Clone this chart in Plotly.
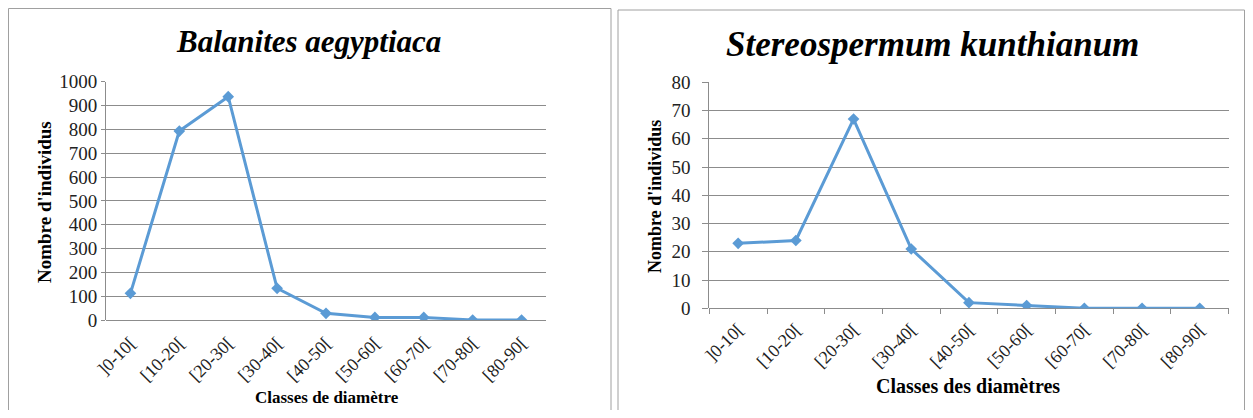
import plotly.graph_objects as go

# page is 1253x418 with an 8px body margin -> figure is 1237x402 at offset (8, 8)
OFF = 8
W, H = 1237, 402

classes = ["]0-10[", "[10-20[", "[20-30[", "[30-40[", "[40-50[", "[50-60[", "[60-70[", "[70-80[", "[80-90["]
balanites = [112, 793, 937, 133, 28, 11, 11, 0, 0]
stereospermum = [23, 24, 67, 21, 2, 1, 0, 0, 0]

title_left = "Balanites aegyptiaca"
title_right = "Stereospermum kunthianum"
ytitle = "Nombre d'individus"
xtitle_left = "Classes de diamètre"
xtitle_right = "Classes des diamètres"

BLUE = "#5B9BD5"
GRID = "#8C8C8C"
SERIF = "Liberation Serif, Times New Roman, serif"


def px(x):
    return (x - OFF) / W


def py(y):
    return 1 - (y - OFF) / H


fig = go.Figure()

line = dict(color=BLUE, width=3)
marker = dict(symbol="diamond", size=9, color=BLUE)

fig.add_trace(go.Scatter(x=classes, y=balanites, mode="lines+markers", line=line,
                         marker=marker, xaxis="x", yaxis="y", showlegend=False))
fig.add_trace(go.Scatter(x=classes, y=stereospermum, mode="lines+markers", line=line,
                         marker=marker, xaxis="x2", yaxis="y2", showlegend=False))

ytickfont = dict(family=SERIF, size=19, color="#222")
xtickfont = dict(family=SERIF, size=18, color="#222")

fig.update_layout(
    width=W, height=H,
    margin=dict(l=0, r=0, t=0, b=0, pad=0, autoexpand=False),
    paper_bgcolor="white", plot_bgcolor="white",
    xaxis=dict(domain=[px(106), px(546)], anchor="y", type="category",
               categoryorder="array", categoryarray=classes,
               range=[-0.5, 8.5], tickangle=-45, tickfont=xtickfont,
               showgrid=False, showline=False, ticks="", zeroline=False,
               ticklabelstandoff=8, automargin=False),
    yaxis=dict(domain=[py(320), py(81.7)], anchor="x", range=[0, 1000], dtick=100,
               tickfont=ytickfont, showgrid=True, gridcolor=GRID, gridwidth=1,
               showline=True, linecolor=GRID, linewidth=1, ticks="outside",
               ticklen=4, tickcolor=GRID, zeroline=True, zerolinecolor=GRID,
               zerolinewidth=1, automargin=False),
    xaxis2=dict(domain=[px(709.3), px(1228.6)], anchor="y2", type="category",
                categoryorder="array", categoryarray=classes,
                range=[-0.5, 8.5], tickangle=-45, tickfont=xtickfont,
                showgrid=False, showline=False, ticks="outside", tickson="boundaries",
                ticklen=5, tickcolor=GRID, zeroline=False, ticklabelstandoff=6,
                automargin=False),
    yaxis2=dict(domain=[py(308.3), py(82.3)], anchor="x2", range=[0, 80], dtick=10,
                tickfont=ytickfont, showgrid=True, gridcolor=GRID, gridwidth=1,
                showline=True, linecolor=GRID, linewidth=1, ticks="outside",
                ticklen=6, tickcolor=GRID, zeroline=True, zerolinecolor=GRID,
                zerolinewidth=1, ticklabelstandoff=8, automargin=False),
)

# panel borders
fig.add_shape(type="rect", xref="paper", yref="paper",
              x0=px(8.5), x1=px(611), y0=py(430), y1=py(8.5),
              line=dict(color="#A0A0A0", width=1))
fig.add_shape(type="rect", xref="paper", yref="paper",
              x0=px(618), x1=px(1244.5), y0=py(430), y1=py(10),
              line=dict(color="#A0A0A0", width=1))


def note(text, x, y, size, angle=0):
    return dict(text=text, x=px(x), y=py(y), xref="paper", yref="paper",
                xanchor="center", yanchor="middle", showarrow=False, textangle=angle,
                font=dict(family=SERIF, size=size, color="black"))


ann = [
    note("<b><i>" + title_left + "</i></b>", 308, 42, 31),
    note("<b><i>" + title_right + "</i></b>", 932, 44, 35),
    note("<b>" + ytitle + "</b>", 44, 202, 19, -90),
    note("<b>" + ytitle + "</b>", 655, 197, 18, -90),
    note("<b>" + xtitle_left + "</b>", 327, 397, 17),
    note("<b>" + xtitle_right + "</b>", 968, 386, 20),
]
fig.update_layout(annotations=ann)

fig.write_html("out.html")
